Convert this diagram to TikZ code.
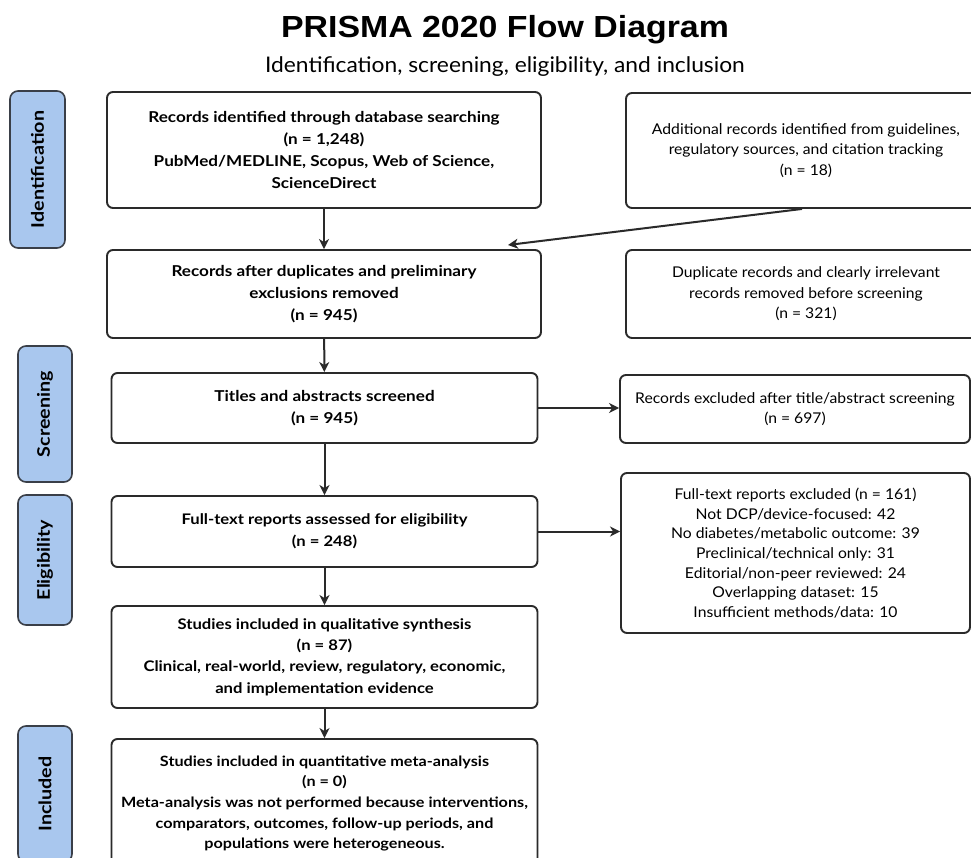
\documentclass[tikz,border=0pt]{standalone}
\usepackage{fontspec}
\setmainfont{Lato}[FakeStretch=1.06, BoldFeatures={FakeStretch=1.14}]
\newfontfamily\titlefont{Liberation Sans}[FakeStretch=1.11]
\usetikzlibrary{arrows.meta}
\definecolor{lblfill}{HTML}{A9C7EE}
\definecolor{lbldraw}{HTML}{3A3F48}
\definecolor{boxdraw}{HTML}{2A2A2A}
\tikzset{
  mainbox/.style={draw=boxdraw, line width=1.9pt, rounded corners=6pt, inner sep=0pt, align=center,
    font=\fontsize{15}{22}\selectfont\bfseries},
  sidebox/.style={draw=boxdraw, line width=1.9pt, rounded corners=6pt, inner sep=0pt, align=center,
    font=\fontsize{14.8}{20.5}\selectfont},
  phase/.style={draw=lbldraw, fill=lblfill, line width=1.6pt, rounded corners=8pt, inner sep=0pt,
    rotate=90, font=\fontsize{17.3}{19}\selectfont\bfseries},
  flow/.style={draw=boxdraw, line width=2pt, -{Stealth[length=10pt,width=10pt,inset=3pt]}},
}
\begin{document}
\begin{tikzpicture}[x=1pt,y=-1pt]
\useasboundingbox (0,0) rectangle (971,858);
\fill[white] (0,0) rectangle (971,858);

% title
\node[font=\titlefont\fontsize{30.5}{34}\selectfont\bfseries] (title) at (505,30) {PRISMA 2020 Flow Diagram};
\node[font=\fontsize{21.5}{24}\selectfont] (subtitle) at (505,67) {Identification, screening, eligibility, and inclusion};

% phase labels
\node[phase, minimum width=157pt, minimum height=55pt] (pid) at (37.5,169.5) {Identification};
\node[phase, minimum width=136pt, minimum height=54pt] (psc) at (45,414) {Screening};
\node[phase, minimum width=130pt, minimum height=54pt] (pel) at (45,560) {Eligibility};
\node[phase, minimum width=136pt, minimum height=54pt] (pin) at (45,794) {Included};

% main column
\node[mainbox, minimum width=434pt, minimum height=116pt] (b1) at (324,150)
  {Records identified through database searching\\(n = 1,248)\\PubMed/MEDLINE, Scopus, Web of Science,\\ScienceDirect};
\node[mainbox, minimum width=434pt, minimum height=88pt] (b2) at (324,294)
  {Records after duplicates and preliminary\\exclusions removed\\(n = 945)};
\node[mainbox, minimum width=426pt, minimum height=70pt] (b3) at (324.5,408)
  {Titles and abstracts screened\\(n = 945)};
\node[mainbox, minimum width=426pt, minimum height=71pt, font=\fontsize{14.6}{22}\selectfont\bfseries] (b4) at (324.5,531.5)
  {Full-text reports assessed for eligibility\\(n = 248)};
\node[mainbox, minimum width=426pt, minimum height=102pt, font=\fontsize{14.6}{21.3}\selectfont\bfseries] (b5) at (324.5,657)
  {Studies included in qualitative synthesis\\(n = 87)\\Clinical, real-world, review, regulatory, economic,\\and implementation evidence};
\node[mainbox, minimum width=426pt, minimum height=129pt, font=\fontsize{14.2}{20.7}\selectfont\bfseries] (b6) at (324.5,803.5)
  {Studies included in quantitative meta-analysis\\(n = 0)\\Meta-analysis was not performed because interventions,\\comparators, outcomes, follow-up periods, and\\populations were heterogeneous.};

% side column
\node[sidebox, minimum width=360pt, minimum height=115pt] (s1) at (806,150.5)
  {Additional records identified from guidelines,\\regulatory sources, and citation tracking\\(n = 18)};
\node[sidebox, minimum width=360pt, minimum height=88pt] (s2) at (806,294)
  {Duplicate records and clearly irrelevant\\records removed before screening\\(n = 321)};
\node[sidebox, minimum width=350pt, minimum height=68pt] (s3) at (795,409)
  {Records excluded after title/abstract screening\\(n = 697)};
\node[sidebox, minimum width=349pt, minimum height=160pt, font=\fontsize{14.8}{19.6}\selectfont] (s4) at (795.5,553)
  {Full-text reports excluded (n = 161)\\Not DCP/device-focused: 42\\No diabetes/metabolic outcome: 39\\Preclinical/technical only: 31\\Editorial/non-peer reviewed: 24\\Overlapping dataset: 15\\Insufficient methods/data: 10};

% connectors
\coordinate (join) at (508,245);
\coordinate (s1out) at ([xshift=-4pt]s1.south);
\draw[flow] (b1) -- (b2);
\draw[flow] (s1out) -- (join);
\draw[flow] (b2) -- (b3);
\draw[flow] (b3.east) -- (b3.east -| s3.west);
\draw[flow] (b3) -- (b4);
\draw[flow] (b4.east) -- (b4.east -| s4.west);
\draw[flow] (b4) -- (b5);
\draw[flow] (b5) -- (b6);
\end{tikzpicture}
\end{document}
